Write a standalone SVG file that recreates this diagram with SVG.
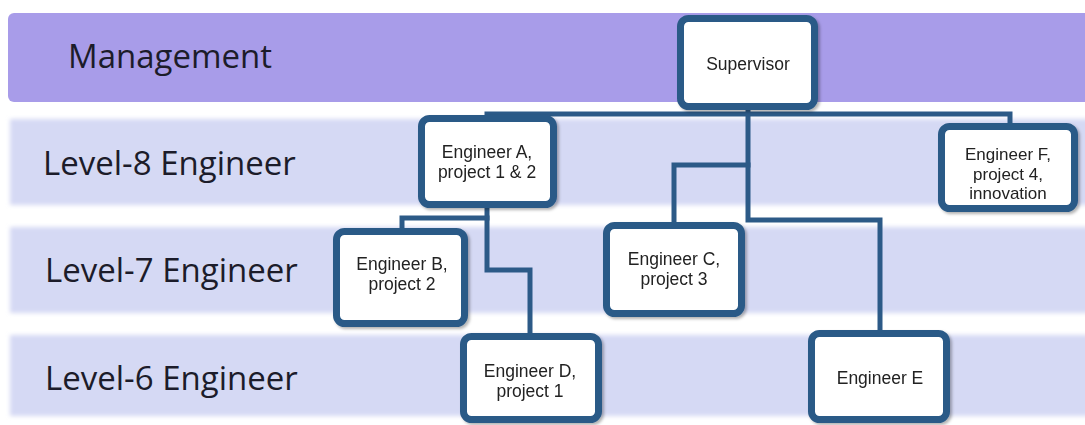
<svg xmlns="http://www.w3.org/2000/svg" width="1085" height="425" viewBox="0 0 1085 425">
  <defs>
    <filter id="soft" x="-5%" y="-20%" width="110%" height="140%">
      <feGaussianBlur stdDeviation="2"/>
    </filter>
    <filter id="shadow" x="-10%" y="-10%" width="125%" height="125%">
      <feDropShadow dx="2" dy="2" stdDeviation="1.5" flood-color="#000" flood-opacity="0.3"/>
    </filter>
    <style>
      .band-top { fill: #a89ce9; }
      .band { fill: #d5d9f4; }
      .label { font-family: "Open Sans", "Noto Sans", sans-serif; font-size: 33px; fill: #1c1c2a; }
      .box { fill: #ffffff; stroke: #2c5a87; stroke-width: 7; }
      .txt { font-family: "Liberation Sans", Arial, sans-serif; font-size: 17.5px; fill: #222222; text-anchor: middle; }
      .txt3 { font-size: 17px; }
      .conn { fill: none; stroke: #2c5a87; stroke-width: 5; stroke-linejoin: miter; stroke-linecap: square; }
    </style>
  </defs>

  <rect width="1085" height="425" fill="#ffffff"/>

  <g id="bands">
    <rect class="band-top" x="8" y="13" width="1090" height="89" rx="6"/>
    <rect class="band" x="10" y="119" width="1090" height="86" filter="url(#soft)"/>
    <rect class="band" x="10" y="227" width="1090" height="86" filter="url(#soft)"/>
    <rect class="band" x="10" y="335" width="1090" height="81" filter="url(#soft)"/>
  </g>

  <g id="labels">
    <text class="label" x="68" y="68">Management</text>
    <text class="label" x="43" y="175">Level-8 Engineer</text>
    <text class="label" x="45" y="282">Level-7 Engineer</text>
    <text class="label" x="45" y="390">Level-6 Engineer</text>
  </g>

  <g id="connectors">
    <path class="conn" d="M 487 118 V 114 H 1010 V 126"/>
    <path class="conn" d="M 748 108 V 220 H 880 V 333"/>
    <path class="conn" d="M 748 165 H 674 V 225"/>
    <path class="conn" d="M 487 206 V 270 H 530 V 336"/>
    <path class="conn" d="M 487 218 H 402 V 231"/>
  </g>

  <g id="supervisor" filter="url(#shadow)">
    <rect class="box" x="680.5" y="18.5" width="134" height="88" rx="8"/>
    <text class="txt" x="748" y="70">Supervisor</text>
  </g>

  <g id="engineer-a" filter="url(#shadow)">
    <rect class="box" x="421.5" y="118.5" width="132" height="86" rx="8"/>
    <text class="txt" x="487" y="158">Engineer A,</text>
    <text class="txt" x="487" y="178">project 1 &amp; 2</text>
  </g>

  <g id="engineer-f" filter="url(#shadow)">
    <rect class="box" x="941.5" y="126.5" width="133" height="82" rx="8"/>
    <text class="txt txt3" x="1008" y="160">Engineer F,</text>
    <text class="txt txt3" x="1008" y="179.5">project 4,</text>
    <text class="txt txt3" x="1008" y="199">innovation</text>
  </g>

  <g id="engineer-b" filter="url(#shadow)">
    <rect class="box" x="336.5" y="231.5" width="128" height="92" rx="8"/>
    <text class="txt" x="402" y="270">Engineer B,</text>
    <text class="txt" x="402" y="290">project 2</text>
  </g>

  <g id="engineer-c" filter="url(#shadow)">
    <rect class="box" x="606.5" y="225.5" width="135" height="88" rx="8"/>
    <text class="txt" x="674" y="265">Engineer C,</text>
    <text class="txt" x="674" y="285">project 3</text>
  </g>

  <g id="engineer-d" filter="url(#shadow)">
    <rect class="box" x="463.5" y="336.5" width="135" height="83" rx="8"/>
    <text class="txt" x="530" y="377">Engineer D,</text>
    <text class="txt" x="530" y="397">project 1</text>
  </g>

  <g id="engineer-e" filter="url(#shadow)">
    <rect class="box" x="811.5" y="333.5" width="135" height="86" rx="8"/>
    <text class="txt" x="880" y="384">Engineer E</text>
  </g>
</svg>
